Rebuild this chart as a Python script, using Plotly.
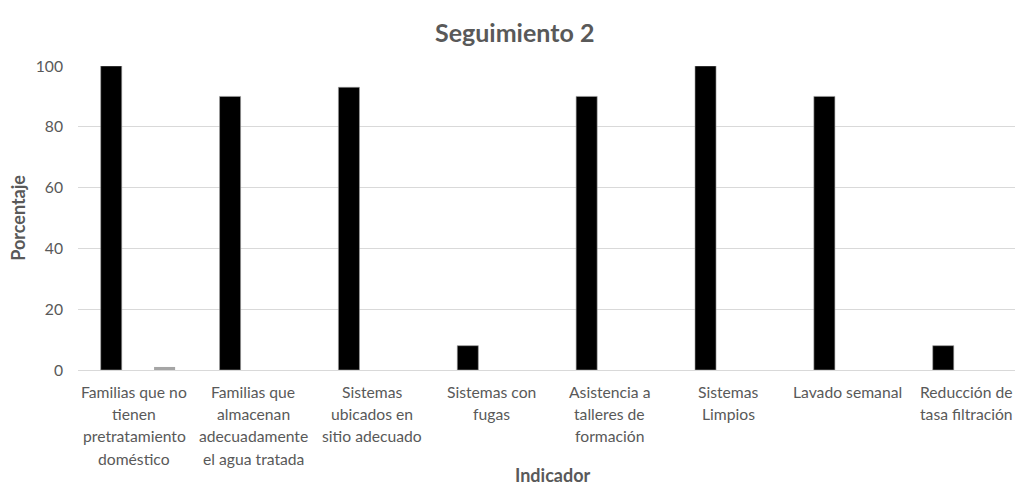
import plotly.graph_objects as go

categories = [
    "Familias que no<br>tienen<br>pretratamiento<br>doméstico",
    "Familias que<br>almacenan<br>adecuadamente<br>el agua tratada",
    "Sistemas<br>ubicados en<br>sitio adecuado",
    "Sistemas con<br>fugas",
    "Asistencia a<br>talleres de<br>formación",
    "Sistemas<br>Limpios",
    "Lavado semanal",
    "Reducción de<br>tasa filtración",
]
serie_1 = [100, 90, 93, 8, 90, 100, 90, 8]
serie_2 = [1, 0, 0, 0, 0, 0, 0, 0]
y_ticks = [0, 20, 40, 60, 80, 100]

W, H = 1015, 493
L, R, T, B = 78, 0, 66, 122.5
plot_w = W - L - R
plot_h = H - T - B
cat_px = 118.86
x_max = -0.5 + plot_w / cat_px

FONT = "Lato, Open Sans, sans-serif"
GREY_TXT = "#595959"


def px_x(px):
    return (px - L) / plot_w


def px_y(py):
    return (H - B - py) / plot_h


xs = list(range(len(categories)))
fig = go.Figure()
fig.add_trace(go.Bar(x=xs, y=serie_1, width=0.177, offset=-0.309,
                     marker=dict(color="#000000", line=dict(color="#a0a0a0", width=0.6)),
                     showlegend=False))
fig.add_trace(go.Bar(x=xs, y=serie_2, width=0.177, offset=0.14,
                     marker=dict(color="#a5a5a5", line=dict(width=0)),
                     showlegend=False))

# category labels, one line at a time
for i, lab in enumerate(categories):
    for j, line in enumerate(lab.split("<br>")):
        fig.add_annotation(x=i, y=0, xref="x", yref="paper", text=line,
                           showarrow=False, yanchor="middle", xanchor="center",
                           xshift=-3, yshift=-(22 + 22.2 * j),
                           font=dict(family=FONT, size=15.7, color=GREY_TXT))

fig.add_annotation(x=px_x(553), y=px_y(476), xref="paper", yref="paper",
                   xanchor="center", yanchor="middle", showarrow=False,
                   text="<b>Indicador</b>", font=dict(family=FONT, size=18, color=GREY_TXT))
fig.add_annotation(x=px_x(18), y=px_y(218), xref="paper", yref="paper",
                   xanchor="center", yanchor="middle", showarrow=False, textangle=-90,
                   text="<b>Porcentaje</b>", font=dict(family=FONT, size=18, color=GREY_TXT))
fig.add_annotation(x=px_x(514), y=px_y(32), xref="paper", yref="paper",
                   xanchor="center", yanchor="middle", showarrow=False,
                   text="<b>Seguimiento 2</b>", font=dict(family=FONT, size=25, color=GREY_TXT))

fig.update_layout(
    width=W, height=H, autosize=False,
    margin=dict(l=L, r=R, t=T, b=B, pad=0),
    paper_bgcolor="white", plot_bgcolor="white",
    barmode="overlay",
    xaxis=dict(range=[-0.5, x_max], showticklabels=False, showgrid=False,
               zeroline=False, showline=False, ticks=""),
    yaxis=dict(range=[0, 100], tickvals=y_ticks, showgrid=True, gridcolor="#d9d9d9",
               gridwidth=1, zeroline=True, zerolinecolor="#d9d9d9", zerolinewidth=1,
               showline=False, ticks="", ticklabelstandoff=14,
               tickfont=dict(family=FONT, size=15.7, color=GREY_TXT)),
)
fig.write_html("out.html")
